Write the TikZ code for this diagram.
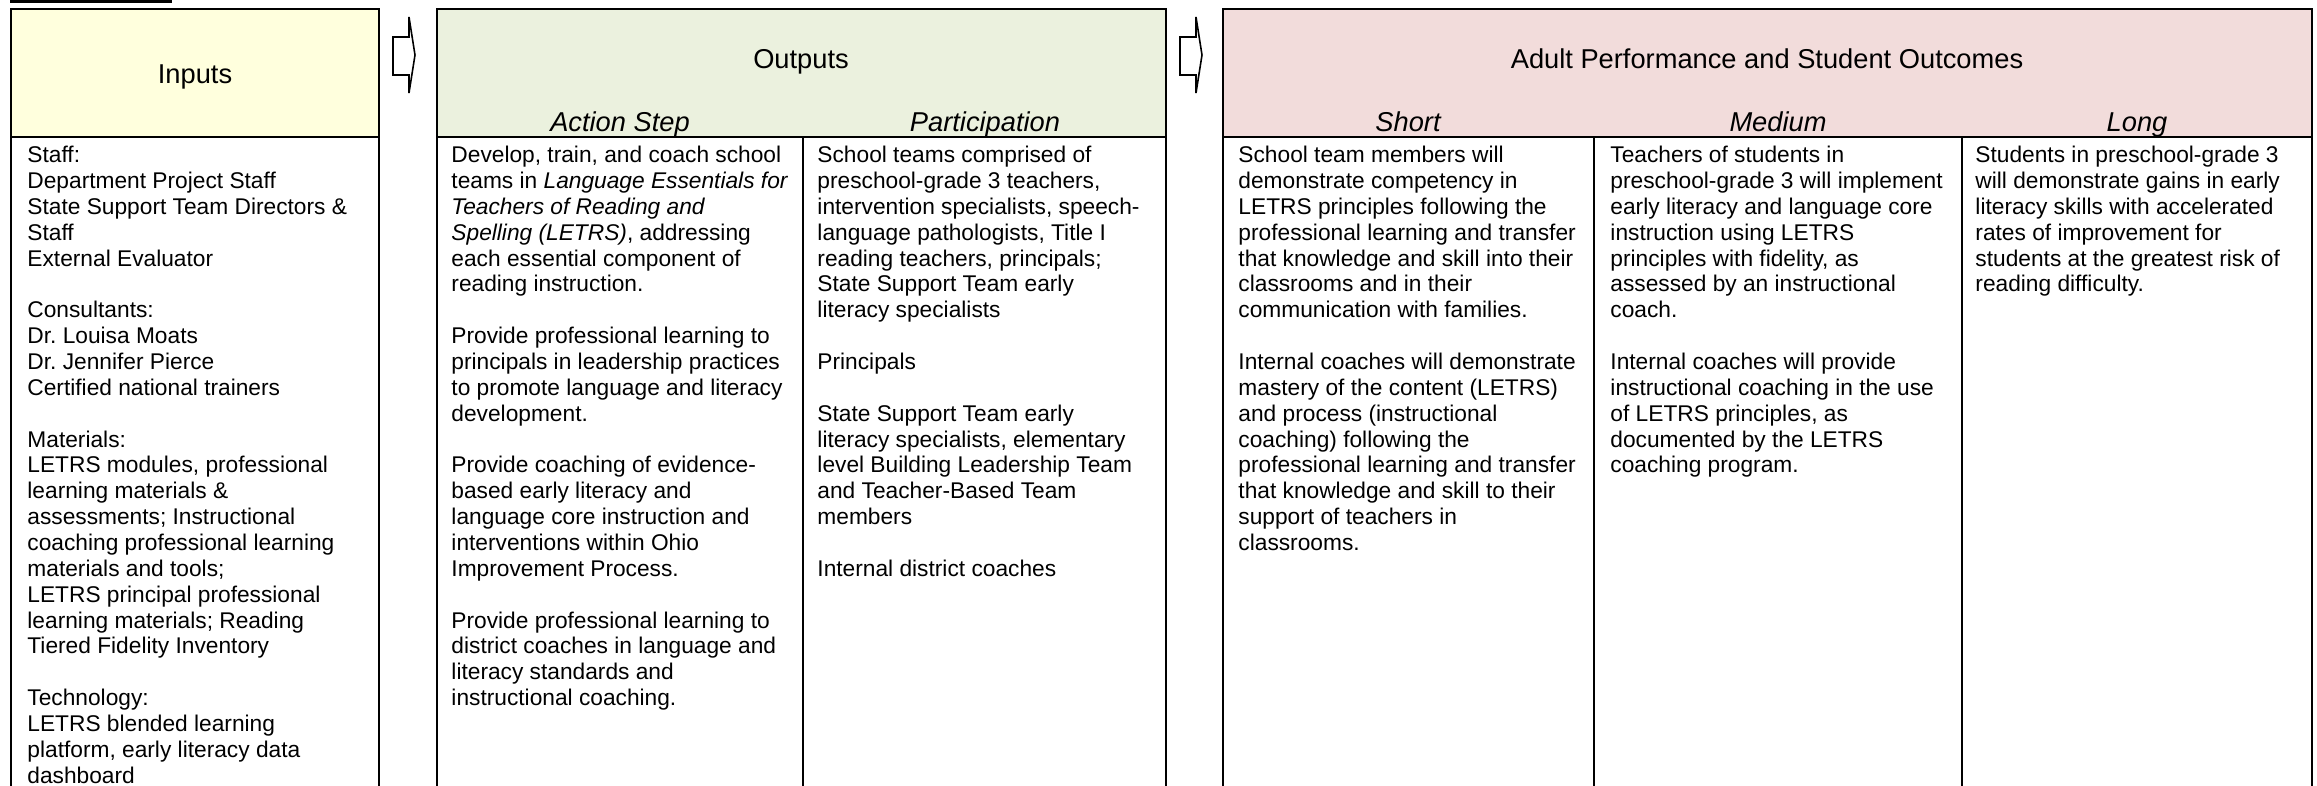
\documentclass[tikz,border=0pt]{standalone}
\usepackage{fontspec}
\setmainfont{Liberation Sans}
\usepackage{tikz}
\usetikzlibrary{calc}
\definecolor{inputfill}{HTML}{FFFFDD}
\definecolor{outputfill}{HTML}{EBF1DE}
\definecolor{outcomefill}{HTML}{F2DCDB}

\begin{document}
\begin{tikzpicture}[x=0.44pt,y=-0.44pt,
		box/.style={line width=0.9pt},
		cell/.style={anchor=north west,inner sep=0pt,align=left,font=\fontsize{10}{11.38}\selectfont},
		head/.style={anchor=base,inner sep=0pt,font=\fontsize{12}{14}\selectfont},
		sub/.style={head,font=\fontsize{12}{14}\selectfont\itshape}]
		\useasboundingbox (0,0) rectangle (2317,786);
		\draw[box] (10,1.5) -- (172,1.5);
		\foreach \l/\r/\c in {11/379/inputfill,437/1166/outputfill,1223/2312/outcomefill}{
			\fill[\c] (\l,9) rectangle (\r,137);
			\draw[box] (\l,786) -- (\l,9) -- (\r,9) -- (\r,786) (\l,137) -- (\r,137);
		}
		\foreach \x in {803,1594,1962}
			\draw[box] (\x,137) -- (\x,786);
		\foreach \x in {393,1180}
			\draw[fill=white,line width=0.7pt] (\x,37) -- ++(16,0) -- ++(0,-20) -- ++(6,38) -- ++(-6,38) -- ++(0,-18) -- ++(-16,0) -- cycle;
		% headers
		\node[head] (inhead) at (195,83) {Inputs};
		\node[head] (outhead) at (801,68) {Outputs};
		\node[head] (reshead) at (1767,68) {Adult Performance and Student Outcomes};
		\node[sub] (acthead) at (620,131) {Action Step};
		\node[sub] (parthead) at (985,131) {Participation};
		\node[sub] (shorthead) at (1408,131) {Short};
		\node[sub] (medhead) at (1778,131) {Medium};
		\node[sub] (longhead) at (2137,131) {Long};
		% columns
		\node[cell] (inputs) at (27,144) {\strut Staff:\\
			Department Project Staff\\
			State Support Team Directors \&\\
			Staff\\
			External Evaluator\\[\baselineskip]
			Consultants:\\
			Dr.\ Louisa Moats\\
			Dr.\ Jennifer Pierce\\
			Certified national trainers\\[\baselineskip]
			Materials:\\
			LETRS modules, professional\\
			learning materials \&\\
			assessments; Instructional\\
			coaching professional learning\\
			materials and tools;\\
			LETRS principal professional\\
			learning materials; Reading\\
			Tiered Fidelity Inventory\\[\baselineskip]
			Technology:\\
			LETRS blended learning\\
			platform, early literacy data\\
			dashboard};
		\node[cell] (action) at (451,144) {\strut Develop, train, and coach school\\
			teams in \textit{Language Essentials for}\\
			\textit{Teachers of Reading and}\\
			\textit{Spelling (LETRS)}, addressing\\
			each essential component of\\
			reading instruction.\\[\baselineskip]
			Provide professional learning to\\
			principals in leadership practices\\
			to promote language and literacy\\
			development.\\[\baselineskip]
			Provide coaching of evidence-\\
			based early literacy and\\
			language core instruction and\\
			interventions within Ohio\\
			Improvement Process.\\[\baselineskip]
			Provide professional learning to\\
			district coaches in language and\\
			literacy standards and\\
			instructional coaching.};
		\node[cell] (particip) at (817,144) {\strut School teams comprised of\\
			preschool-grade 3 teachers,\\
			intervention specialists, speech-\\
			language pathologists, Title I\\
			reading teachers, principals;\\
			State Support Team early\\
			literacy specialists\\[\baselineskip]
			Principals\\[\baselineskip]
			State Support Team early\\
			literacy specialists, elementary\\
			level Building Leadership Team\\
			and Teacher-Based Team\\
			members\\[\baselineskip]
			Internal district coaches};
		\node[cell] (short) at (1238,144) {\strut School team members will\\
			demonstrate competency in\\
			LETRS principles following the\\
			professional learning and transfer\\
			that knowledge and skill into their\\
			classrooms and in their\\
			communication with families.\\[\baselineskip]
			Internal coaches will demonstrate\\
			mastery of the content (LETRS)\\
			and process (instructional\\
			coaching) following the\\
			professional learning and transfer\\
			that knowledge and skill to their\\
			support of teachers in\\
			classrooms.};
		\node[cell] (medium) at (1610,144) {\strut Teachers of students in\\
			preschool-grade 3 will implement\\
			early literacy and language core\\
			instruction using LETRS\\
			principles with fidelity, as\\
			assessed by an instructional\\
			coach.\\[\baselineskip]
			Internal coaches will provide\\
			instructional coaching in the use\\
			of LETRS principles, as\\
			documented by the LETRS\\
			coaching program.};
		\node[cell] (long) at (1975,144) {\strut Students in preschool-grade 3\\
			will demonstrate gains in early\\
			literacy skills with accelerated\\
			rates of improvement for\\
			students at the greatest risk of\\
			reading difficulty.};
	\end{tikzpicture}
\end{document}
